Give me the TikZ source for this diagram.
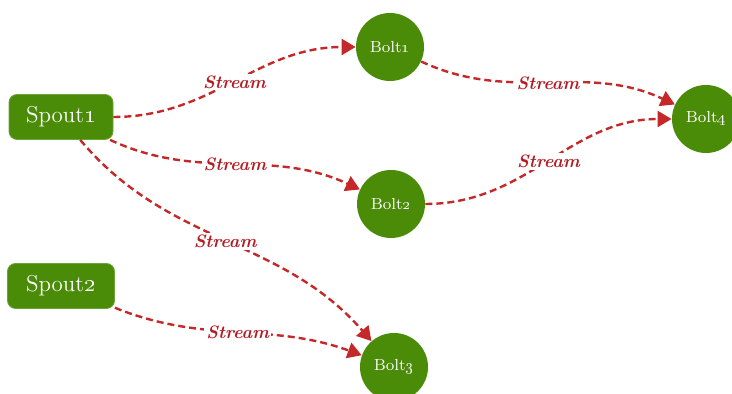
\documentclass[tikz,border=0pt]{standalone}
\usetikzlibrary{arrows.meta}
\definecolor{nodegreen}{RGB}{74,140,8}
\definecolor{streamred}{RGB}{196,40,40}
\definecolor{labelred}{RGB}{180,28,36}
\tikzset{
  spoutbox/.style={draw=nodegreen!80!white, line width=0.4pt, fill=nodegreen, rounded corners=4pt,
    minimum width=52pt, minimum height=22.5pt, text=white, font=\fontsize{11.5}{13}\selectfont},
  boltnode/.style={circle, fill=nodegreen, minimum size=34pt, inner sep=0pt, text=white,
    font=\fontsize{8}{9}\selectfont},
  streamedge/.style={draw=streamred, line width=1.2pt, dash pattern=on 3.5pt off 2pt,
    -{Triangle[length=7pt,width=8pt]}},
  streamlabel/.style={fill=white, inner sep=1pt, text=labelred,
    font=\fontsize{9}{10}\selectfont\bfseries\itshape}
}
\begin{document}
\begin{tikzpicture}[x=0.5pt,y=0.5pt]
  \useasboundingbox (0,0) rectangle (732,394);

  % sources
  \node[spoutbox] (s1) at (61,277) {Spout\oldstylenums{1}};
  \node[spoutbox, minimum width=53.5pt] (s2) at (61,108) {Spout\oldstylenums{2}};

  % processing bolts
  \node[boltnode] (b1) at (390,347) {Bolt\oldstylenums{1}};
  \node[boltnode] (b2) at (391,190) {Bolt\oldstylenums{2}};
  \node[boltnode] (b3) at (394,27) {Bolt\oldstylenums{3}};
  \node[boltnode] (b4) at (706,275) {Bolt\oldstylenums{4}};

  % streams
  \draw[streamedge] (s1) to[out=0,in=180] node[streamlabel] {Stream} (b1);
  \draw[streamedge] (s1) to[out=-25,in=155] node[streamlabel] {Stream} (b2);
  \draw[streamedge] (s1) to[out=-50,in=131] node[streamlabel] {Stream} (b3);
  \draw[streamedge] (s2) to[out=-22,in=160] node[streamlabel] {Stream} (b3);
  \draw[streamedge] (b1) to[out=-25,in=155] node[streamlabel] {Stream} (b4);
  \draw[streamedge] (b2) to[out=0,in=180] node[streamlabel] {Stream} (b4);
\end{tikzpicture}
\end{document}
